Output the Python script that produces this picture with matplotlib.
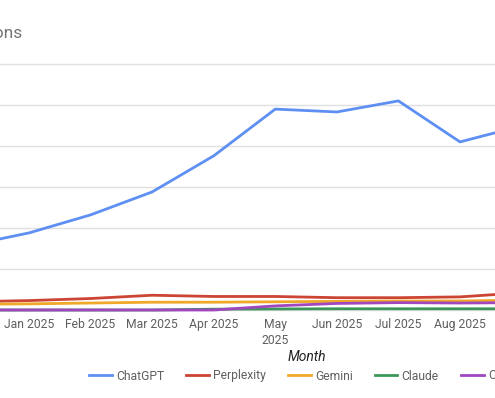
import matplotlib
matplotlib.use("Agg")
import matplotlib.pyplot as plt

plt.rcParams['font.family'] = ['Roboto', 'DejaVu Sans']

months = ["Dec 2024", "Jan 2025", "Feb 2025", "Mar 2025", "Apr 2025",
          "May 2025", "Jun 2025", "Jul 2025", "Aug 2025", "Sep 2025"]
tick_labels = ["Dec 2024", "Jan 2025", "Feb 2025", "Mar 2025", "Apr 2025",
               "May\n2025", "Jun 2025", "Jul 2025", "Aug 2025", "Sep 2025"]

chatgpt = [1.57, 1.88, 2.32, 2.88, 3.76, 4.90, 4.83, 5.10, 4.10, 4.49]
perplexity = [0.20, 0.23, 0.28, 0.36, 0.33, 0.33, 0.30, 0.30, 0.32, 0.42]
gemini = [0.14, 0.15, 0.17, 0.19, 0.19, 0.20, 0.21, 0.22, 0.22, 0.24]
claude = [0.0, 0.0, 0.0, 0.0, 0.02, 0.025, 0.03, 0.03, 0.03, 0.03]
copilot = [0.0, 0.0, 0.0, 0.0, 0.0, 0.10, 0.16, 0.18, 0.17, 0.18]

series = [("ChatGPT", chatgpt, "#5e8ff2"),
          ("Perplexity", perplexity, "#cc4433"),
          ("Gemini", gemini, "#f0a828"),
          ("Claude", claude, "#3c965a"),
          ("Copilot", copilot, "#a046be")]

grid_vals = [0, 1, 2, 3, 4, 5, 6]

W, H = 495, 398
fig = plt.figure(figsize=(W / 100, H / 100), dpi=100)

# axes geometry in pixels
top_px, bot_px = 50, 312
ax = fig.add_axes([0, 1 - bot_px / H, 1, (bot_px - top_px) / H])
x = list(range(len(months)))

for g in grid_vals:
    ax.axhline(g, color="#e0e0e0", lw=1.0, zorder=1)

for name, vals, col in series:
    ax.plot(x, vals, color=col, lw=2.0, label=name, zorder=3,
            solid_joinstyle="round", clip_on=False)

for s in ax.spines.values():
    s.set_visible(False)
ax.set_yticks([])
ax.set_xticks(x)
ax.set_xticklabels(tick_labels, fontsize=8.7, color="#5f5f5f", linespacing=1.35)
ax.tick_params(axis="x", length=0, pad=4)
ax.patch.set_alpha(0)

sp = 61.57
ax.set_xlim(1 - 29 / sp, 1 + (W - 29) / sp)
ax.set_ylim(-(bot_px - 310) / 41, (310 - top_px) / 41)

fig.text(22 / W, 1 - 38 / H, "AI Referral Sessions", ha="right", va="baseline",
         fontsize=12.5, color="#757575")
fig.text(307 / W, 1 - 357 / H, "Month", ha="center", va="center",
         fontsize=10, style="italic", color="#222222")

handles, labels = ax.get_legend_handles_labels()
fig.legend(handles, labels, loc="center", bbox_to_anchor=(307.5 / W, 1 - 376 / H),
           ncol=5, frameon=False, fontsize=8.7, handlelength=1.9,
           handletextpad=0.35, columnspacing=1.8, labelcolor="#5f5f5f")

fig.savefig("out.png", dpi=100)
